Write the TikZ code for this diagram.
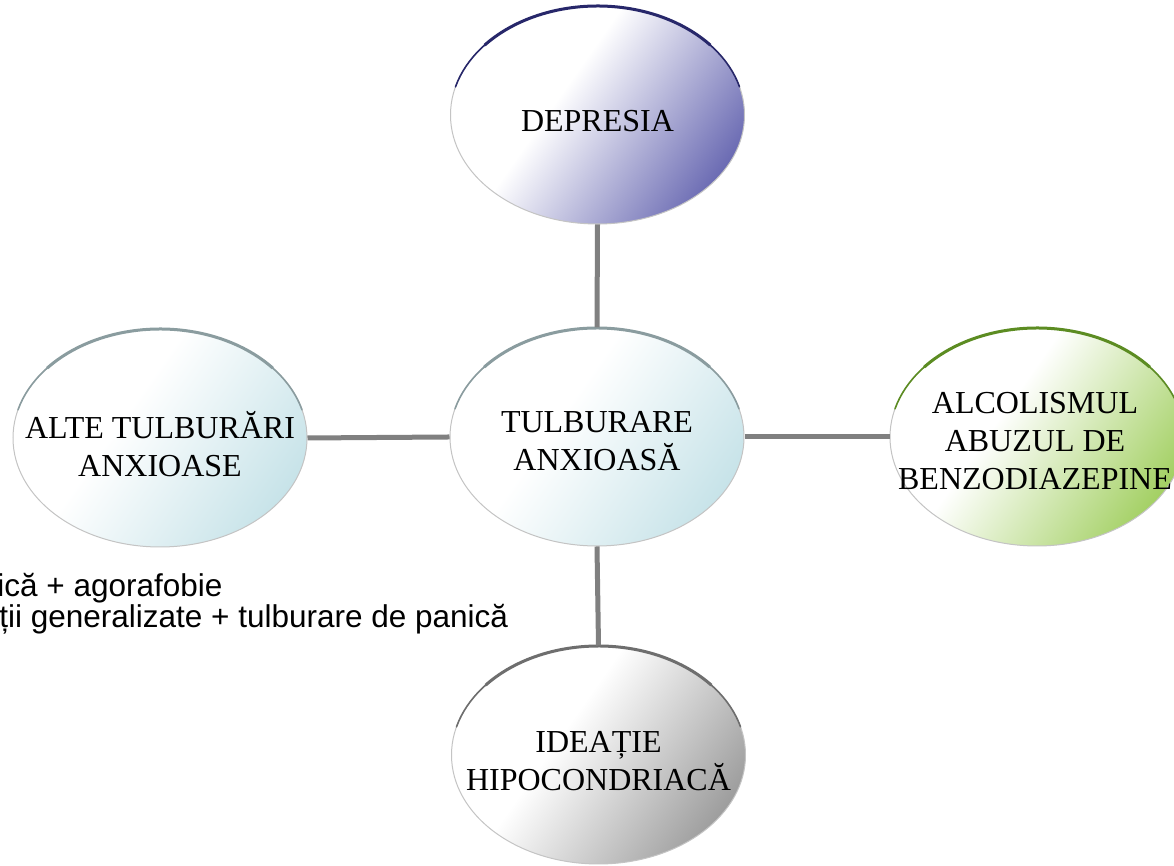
\documentclass[tikz,border=0pt]{standalone}
\usepackage{fontspec}
\setmainfont{Liberation Serif}
\newfontfamily\sansf{Liberation Sans}
\usetikzlibrary{shapes.geometric}
\definecolor{navyc}{HTML}{4646A0}
\definecolor{navyedge}{HTML}{27276A}
\definecolor{cyanc}{HTML}{B9DCE3}
\definecolor{cyanedge}{HTML}{8A9C9F}
\definecolor{greenc}{HTML}{8CC43C}
\definecolor{greenedge}{HTML}{5C8C22}
\definecolor{grayc}{HTML}{858585}
\definecolor{grayedge}{HTML}{6E6E6E}
\definecolor{bordc}{HTML}{C4C4C4}
\definecolor{linkc}{HTML}{808080}
\pgfdeclarehorizontalshading{shnavy}{100bp}{color(0bp)=(white); color(42bp)=(white); color(84bp)=(navyc); color(100bp)=(navyc)}
\pgfdeclarehorizontalshading{shcyan}{100bp}{color(0bp)=(white); color(42bp)=(white); color(84bp)=(cyanc); color(100bp)=(cyanc)}
\pgfdeclarehorizontalshading{shgreen}{100bp}{color(0bp)=(white); color(42bp)=(white); color(84bp)=(greenc); color(100bp)=(greenc)}
\pgfdeclarehorizontalshading{shgray}{100bp}{color(0bp)=(white); color(42bp)=(white); color(84bp)=(grayc); color(100bp)=(grayc)}
\begin{document}
\begin{tikzpicture}[x=0.5pt,y=0.5pt,
  bub/.style={ellipse, draw=bordc, line width=0.5pt, minimum width=147pt, minimum height=109pt, inner sep=0pt, shading angle=-35},
  txt/.style={font=\fontsize{16}{19}\selectfont, align=center, inner sep=0pt},
  sidetxt/.style={font=\sansf\fontsize{15.75}{16}\selectfont, anchor=base west, inner sep=0pt},
  link/.style={draw=linkc, line width=2.5pt},
  edgethin/.style={line width=0.8pt, line cap=round},
  edgethick/.style={line width=1.5pt, line cap=round}
]
\clip (0,0) rectangle (1174,866);
\fill[white] (0,0) rectangle (1174,866);
% ellipses
\node[bub, shading=shnavy] (dep) at (597.5,751) {};
\node[bub, shading=shcyan] (cen) at (597,429) {};
\node[bub, shading=shcyan] (alte) at (160,428) {};
\node[bub, shading=shgreen] (alc) at (1037,429) {};
\node[bub, shading=shgray] (ide) at (598.5,111) {};
% top edges
\foreach \n/\c in {dep/navyedge, cen/cyanedge, alte/cyanedge, alc/greenedge, ide/grayedge}{
  \draw[edgethin, \c] ([shift={(165:147 and 109)}]\n.center) arc[start angle=165, end angle=15, x radius=147, y radius=109];
  \draw[edgethick, \c] ([shift={(140:147 and 109)}]\n.center) arc[start angle=140, end angle=40, x radius=147, y radius=109];
}
% connectors
\draw[link] (dep.south) -- (cen.north);
\draw[link] (alte.east) -- (cen.west);
\draw[link] (cen.east) -- (alc.west);
\draw[link] (cen.south) -- (ide.north);
% texts
\node[txt] (tdep) at ([yshift=-3pt]dep.center) {DEPRESIA};
\node[txt] (tcen) at ([yshift=-2pt]cen.center) {TULBURARE\\ANXIOASĂ};
\node[txt] (talte) at ([yshift=-3pt]alte.center) {ALTE TULBURĂRI\\ANXIOASE};
\node[txt] (talc) at ([shift={(-1pt,-2pt)}]alc.center) {ALCOLISMUL\\ABUZUL DE\\BENZODIAZEPINE};
\node[txt] (tide) at ([yshift=-3pt]ide.center) {IDEAȚIE\\HIPOCONDRIACĂ};
\node[sidetxt] (s1) at (-3,269) {ică + agorafobie};
\node[sidetxt] (s2) at (-1,238) {ții generalizate + tulburare de panică};
\end{tikzpicture}
\end{document}
